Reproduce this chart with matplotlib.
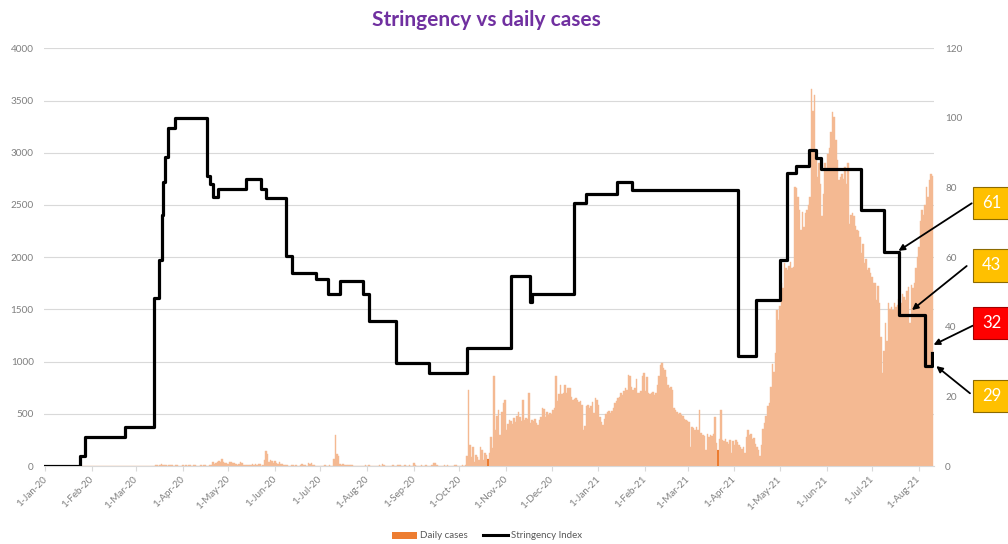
import numpy as np
import pandas as pd
import matplotlib
matplotlib.use("Agg")
import matplotlib.pyplot as plt
import matplotlib.dates as mdates
from matplotlib.patches import Patch, Rectangle
from matplotlib.lines import Line2D

plt.rcParams['font.family'] = ['Lato', 'DejaVu Sans']

# ---------------- data: daily cases (one list per month) ----------------
jan20 = [0] * 31
feb20 = [0] * 29
mar20 = [0, 0, 0, 0, 0, 0, 0, 0, 0, 0,
         1, 2, 0, 8, 10, 1, 8, 20, 6, 5, 5, 3, 5, 6, 7, 0, 7, 5, 1, 4, 0]
apr20 = [5, 3, 7, 1, 8, 9, 2, 5, 6, 1, 3, 0, 8, 1, 6, 5, 3, 4, 6, 6,
         34, 20, 25, 38, 52, 40, 64, 35, 32, 32]
may20 = [20, 38, 43, 27, 28, 15, 14, 20, 35, 32, 13, 10, 12,
         8, 10, 14, 15, 10, 16, 9, 21, 23, 3, 6,
         60, 144, 112, 40, 62, 48, 30]
jun20 = [48, 30, 20, 40, 15, 18, 8, 10, 5, 3, 3, 8, 11, 4, 6, 3, 2, 6, 15, 7,
         5, 3, 25, 20, 24, 10, 6, 3, 4, 2]
jul20 = [3, 4, 2, 5, 2, 2, 6, 2, 2, 64, 300, 112, 96, 22,
         8, 15, 10, 5, 11, 6, 8, 5, 4, 3, 2, 2, 1, 4, 3, 3, 9]
aug20 = [2, 5, 3, 1, 2, 4, 3, 2, 6, 4, 16, 5, 2, 3, 1, 4, 2, 8, 3, 2,
         5, 6, 10, 3, 2, 8, 4, 3, 5, 2, 4]
sep20 = [25, 8, 3, 4, 2, 6, 3, 1, 5, 4, 2, 3, 8, 32, 25, 12, 4, 2, 3, 1,
         5, 2, 6, 3, 2, 4, 3, 10, 5, 2]
oct20 = [3, 2, 5, 4, 6,
         100, 727, 200, 90, 185, 40, 105, 90, 60, 185, 150, 60, 120, 110, 70,
         120, 280, 170, 865, 340, 480, 535, 300, 520, 600, 630]
nov20 = [345, 400, 440, 430, 400, 460, 420, 480, 520, 470, 430, 630, 440, 460, 450,
         695, 410, 440, 430, 450, 410, 390, 440, 470, 560, 550, 470, 520, 490, 510]
dec20 = [500, 540, 560, 865, 620, 685, 775, 690, 700, 780, 700, 750, 745, 660, 630,
         640, 650, 630, 615, 620, 580, 345, 380, 570, 580, 560, 570, 615, 505, 650, 630]
jan21 = [585, 470, 420, 390, 450, 500, 520, 530, 510, 525, 560, 600, 620, 650, 660,
         700, 680, 720, 745, 730, 870, 860, 760, 730, 750, 830, 700, 700, 720, 860, 887]
feb21 = [720, 855, 700, 690, 700, 710, 680, 700, 780, 860, 967, 983, 935, 920,
         850, 775, 750, 760, 730, 560, 535, 520, 500, 510, 490, 480, 450, 440]
mar21 = [430, 420, 185, 370, 360, 345, 375, 340, 535, 320, 300, 290, 150, 310, 280,
         300, 290, 310, 470, 220, 153, 260, 535, 250, 240, 260, 230, 215, 250, 120, 240]
apr21 = [200, 250, 230, 200, 185, 160, 180, 120, 280, 345, 300, 310, 260, 270, 215,
         180, 150, 100, 200, 350, 410, 480, 570, 600, 760, 980, 900, 1080, 1490, 1400]
may21 = [1530, 1750, 1700, 1940, 1900, 1880, 1920, 1950, 1900, 1910, 2670, 2660, 2580,
         2450, 2260, 2430, 2290, 2420, 2450, 2500, 2580, 3614, 3400, 3550, 2990, 2770,
         2900, 2700, 2390, 2600, 2900]
jun21 = [2850, 2990, 3050, 3200, 3390, 3340, 3120, 2930, 2740, 2770, 2800, 2750, 2860,
         2700, 2900, 2320, 2400, 2420, 2390, 2300, 2260, 2250, 2190, 2035, 2130, 1940,
         1980, 1880, 1900, 1850]
jul21 = [1810, 1750, 1750, 1590, 1720, 1560, 1240, 890, 1100, 1365, 1200, 1560, 1500,
         1520, 1490, 1560, 1520, 1540, 1600, 1560, 1650, 1620, 1590, 1680, 1715, 1365,
         1730, 1700, 1750, 1900, 2000]
aug21 = [2100, 2350, 2450, 2400, 2500, 2670, 2580, 2740, 2800, 2780]

daily_cases = (jan20 + feb20 + mar20 + apr20 + may20 + jun20 + jul20 + aug20 + sep20
               + oct20 + nov20 + dec20 + jan21 + feb21 + mar21 + apr21 + may21 + jun21
               + jul21 + aug21)
case_dates = pd.date_range('2020-01-01', periods=len(daily_cases), freq='D')
dark_bar_dates = ['2020-10-20', '2021-03-21']

# ---------------- data: stringency index (value from each change date) ----------------
stringency_dates = ['2020-01-01', '2020-01-24', '2020-01-27', '2020-02-23', '2020-03-13',
                    '2020-03-16', '2020-03-18', '2020-03-19', '2020-03-20', '2020-03-22',
                    '2020-03-27', '2020-04-17', '2020-04-19', '2020-04-21', '2020-04-24',
                    '2020-05-13', '2020-05-23', '2020-05-26', '2020-06-08', '2020-06-12',
                    '2020-06-28', '2020-07-06', '2020-07-14', '2020-07-29', '2020-08-02',
                    '2020-08-20', '2020-09-11', '2020-10-06', '2020-11-04', '2020-11-17',
                    '2020-11-18', '2020-12-16', '2020-12-24', '2021-01-13', '2021-01-23',
                    '2021-04-03', '2021-04-15', '2021-05-01', '2021-05-06', '2021-05-12',
                    '2021-05-20', '2021-05-25', '2021-05-28', '2021-06-24', '2021-07-09',
                    '2021-07-19', '2021-08-05', '2021-08-10']
stringency_values = [0, 2.78, 8.33, 11.11, 48.15, 59.26, 72.22, 81.48, 88.89, 97.22,
                     100, 83.33, 81.02, 77.31, 79.63, 82.41, 79.63, 76.85, 60.19, 55.56,
                     53.70, 49.54, 53.24, 49.54, 41.67, 29.63, 26.85, 33.80, 54.63, 47.22,
                     49.54, 75.46, 78.24, 81.48, 79.17, 31.48, 47.69, 59.26, 84.26, 86.11,
                     90.74, 88.43, 85.19, 73.61, 61.57, 43.52, 28.70, 32.41]

# ---------------- annotations ----------------
callout_labels = ['61', '43', '32', '29']
callout_colors = ['#FFC000', '#FFC000', '#FF0000', '#FFC000']
callout_tip_dates = ['2021-07-18 12:00', '2021-07-27 10:00', '2021-08-10 17:00', '2021-08-12 12:00']
callout_tip_values = [61.8, 44.8, 34.8, 28.7]

# ---------------- figure ----------------
W, H = 1008, 544
fig = plt.figure(figsize=(W / 100, H / 100), dpi=100)
def fx(px):
    return px / W
def fy(py):
    return 1 - py / H

ax = fig.add_axes([fx(43.5), fy(466), (934 - 43.5) / W, (466 - 48.3) / H])
bar_color = '#F4B992'
ax.bar(case_dates, daily_cases, width=1.0, color=bar_color, edgecolor=bar_color,
       linewidth=0.3, align='center', zorder=2)
dark_idx = [case_dates.get_loc(pd.Timestamp(d)) for d in dark_bar_dates]
ax.bar(case_dates[dark_idx], [daily_cases[i] for i in dark_idx], width=1.0,
       color='#EC7C30', linewidth=0, zorder=3)

start = mdates.date2num(pd.Timestamp('2020-01-01'))
ax.set_xlim(start - 1.2, start + 588)
ax.set_ylim(0, 4000)
ax.set_yticks(np.arange(0, 4001, 500))
ax.yaxis.grid(True, color='#D9D9D9', linewidth=0.8, zorder=0)
ax.set_axisbelow(True)
for s in ['top', 'left', 'right']:
    ax.spines[s].set_visible(False)
ax.spines['bottom'].set_color('#D9D9D9')
ax.spines['bottom'].set_linewidth(0.8)
ax.tick_params(axis='y', length=0, labelsize=7.2, labelcolor='#7F7F7F', pad=7)

month_starts = pd.date_range('2020-01-01', '2021-08-01', freq='MS')
month_labels = [f"{d.day}-{d.strftime('%b-%y')}" for d in month_starts]
ax.set_xticks(month_starts)
ax.set_xticklabels(month_labels, rotation=45, ha='right', va='center',
                   rotation_mode='anchor')
ax.tick_params(axis='x', length=3.5, width=0.8, color='#D9D9D9', labelsize=7,
               labelcolor='#7F7F7F', pad=5)

ax2 = ax.twinx()
ax2.set_ylim(0, 120)
ax2.set_yticks(np.arange(0, 121, 20))
for s in ax2.spines.values():
    s.set_visible(False)
ax2.tick_params(axis='y', length=0, labelsize=7.2, labelcolor='#7F7F7F', pad=8)
ax2.plot(pd.to_datetime(stringency_dates), stringency_values, drawstyle='steps-post',
         color='black', linewidth=2.3, zorder=4)

# title
fig.text(fx(486), fy(20), 'Stringency vs daily cases', ha='center', va='center',
         fontsize=15, fontweight='bold', color='#7030A0')

# legend
handles = [Patch(facecolor='#ED7D31', edgecolor='none'),
           Line2D([], [], color='black', linewidth=2.2)]
fig.legend(handles, ['Daily cases', 'Stringency Index'], loc='center',
           bbox_to_anchor=(fx(487), fy(536)), ncol=2, frameon=False, fontsize=7,
           labelcolor='#595959', handlelength=2.6, handleheight=0.7,
           columnspacing=1.5, handletextpad=0.3)

# callout boxes with arrows
box_centers_y = [203, 265.3, 323, 395.8]
arrow_starts = [(971.7, 203.3), (966.7, 266), (972.7, 325.7), (970, 393.3)]
box_left, box_w, box_h = 972.7, 38, 32.6
for lab, col, cy, (sx, sy), td, tv in zip(callout_labels, callout_colors, box_centers_y,
                                          arrow_starts, callout_tip_dates, callout_tip_values):
    rect = Rectangle((fx(box_left), fy(cy + box_h / 2)), box_w / W, box_h / H,
                     transform=fig.transFigure, facecolor=col,
                     edgecolor='#8C6A00' if col != '#FF0000' else '#A00000',
                     linewidth=0.8, zorder=10)
    fig.add_artist(rect)
    fig.text(fx(box_left + box_w / 2), fy(cy), lab, ha='center', va='center',
             fontsize=12, color='white', zorder=11)
    ax2.annotate('', xy=(mdates.date2num(pd.Timestamp(td)), tv), xycoords='data',
                 xytext=(fx(sx), fy(sy)), textcoords='figure fraction',
                 arrowprops=dict(arrowstyle='-|>', color='black', lw=1.3,
                                 mutation_scale=9, shrinkA=0, shrinkB=0),
                 annotation_clip=False, zorder=12)

fig.savefig('out.png', dpi=100)
